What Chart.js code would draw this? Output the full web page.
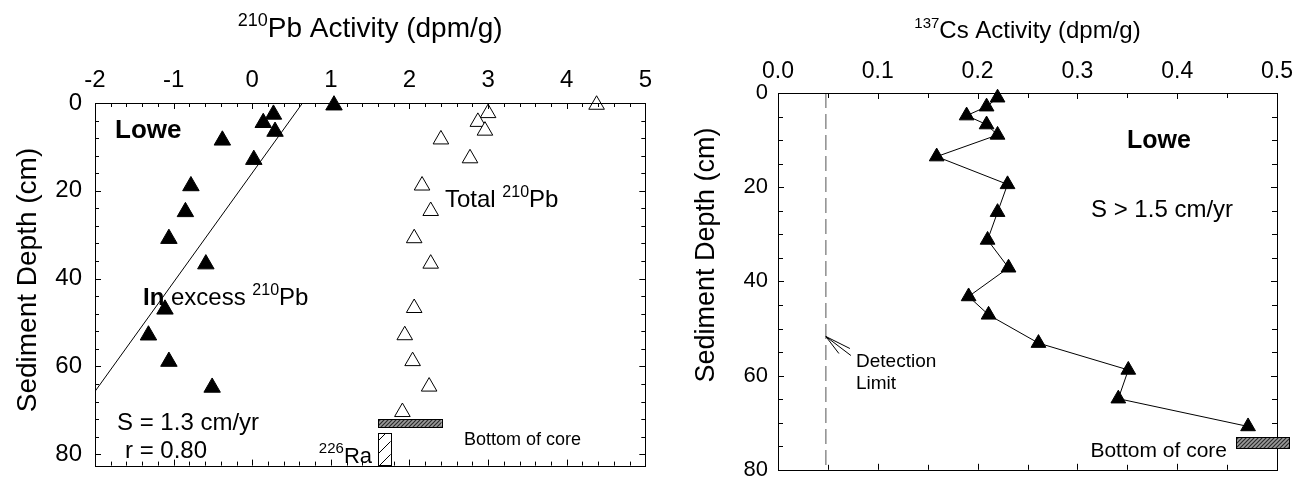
<!DOCTYPE html>
<html>
<head>
<meta charset="utf-8">
<script src="https://cdn.jsdelivr.net/npm/chart.js@4.4.0/dist/chart.umd.min.js"></script>
<style>
  body { margin: 0; background: #fff; width: 1305px; height: 493px; overflow: hidden; position: relative; }
  #pbWrap { position: absolute; left: 0; top: 0; }
  #csWrap { position: absolute; left: 660px; top: 0; }
</style>
</head>
<body>
<div id="pbWrap"><canvas id="pbChart" width="660" height="493"></canvas></div>
<div id="csWrap"><canvas id="csChart" width="645" height="493"></canvas></div>
<script>
// 210Pb profile, Lowe core
const pbDepth = [0.5, 2.6, 4.5, 6.5, 8.5, 12.9, 18.9, 24.8, 30.9, 36.7, 47.0, 52.9, 58.9, 64.8];
const pbExcess = [1.04, 0.27, 0.14, 0.29, -0.38, 0.02, -0.78, -0.85, -1.06, -0.59, -1.11, -1.32, -1.06, -0.51];
const pbTotalDepth = [0.4, 2.3, 4.3, 6.3, 8.3, 12.6, 18.8, 24.6, 30.8, 36.6, 46.7, 52.9, 58.8, 64.6, 70.4];
const pbTotal = [4.38, 3.0, 2.87, 2.96, 2.40, 2.77, 2.16, 2.27, 2.06, 2.27, 2.06, 1.94, 2.04, 2.25, 1.91];
// regression through excess 210Pb (S = 1.3 cm/yr)
const pbFitX = [0.64, -2.0];
const pbFitDepth = [0, 65.7];
// 226Ra support level and core bottom marker
const raRange = [1.6, 1.76];
const raTopDepth = 75.2;
const pbCoreX = [1.6, 2.41];
const pbCoreDepth = [72.0, 73.8];

// 137Cs profile, Lowe core
const csDepth = [1.0, 2.9, 4.8, 6.7, 8.9, 13.5, 19.4, 25.3, 31.2, 37.1, 43.2, 47.1, 53.1, 58.8, 64.9, 70.8];
const csActivity = [0.22, 0.209, 0.189, 0.209, 0.22, 0.159, 0.23, 0.22, 0.21, 0.231, 0.191, 0.211, 0.261, 0.351, 0.341, 0.471];
const detectionLimit = 0.048;
const detectionArrowDepth = 51.7;
const csCoreX = [0.459, 0.512];
const csCoreDepth = [73.1, 75.4];

const FONT = '"Liberation Sans", Arial, Helvetica, sans-serif';
Chart.defaults.font.family = FONT;
Chart.defaults.color = '#000';

function font(size, bold) {
  return (bold ? 'bold ' : '') + size + 'px ' + FONT;
}

// text made of runs: [text, size, bold, raise]
function drawRuns(ctx, runs, x, y, align) {
  let w = 0;
  runs.forEach(r => { ctx.font = font(r[1], r[2]); w += ctx.measureText(r[0]).width; });
  let cx = align === 'center' ? x - w / 2 : align === 'right' ? x - w : x;
  ctx.textAlign = 'left';
  ctx.textBaseline = 'alphabetic';
  runs.forEach(r => {
    ctx.font = font(r[1], r[2]);
    ctx.fillText(r[0], cx, y - (r[3] || 0));
    cx += ctx.measureText(r[0]).width;
  });
}

function hatch(bg, fg, gap, lw) {
  const c = document.createElement('canvas');
  c.width = gap; c.height = gap;
  const g = c.getContext('2d');
  g.fillStyle = bg;
  g.fillRect(0, 0, gap, gap);
  g.strokeStyle = fg;
  g.lineWidth = lw;
  g.beginPath();
  g.moveTo(-1, gap + 1); g.lineTo(gap + 1, -1);
  g.moveTo(-1, 1); g.lineTo(1, -1);
  g.moveTo(gap - 1, gap + 1); g.lineTo(gap + 1, gap - 1);
  g.stroke();
  return g.createPattern(c, 'repeat');
}

// frame with inward ticks on all four sides
function drawFrame(chart, xStep, yStep, xMajor, yMajor, majLen, minLen) {
  const ctx = chart.ctx;
  const a = chart.chartArea;
  const xs = chart.scales.x, ys = chart.scales.y;
  ctx.save();
  ctx.strokeStyle = '#000';
  ctx.lineWidth = 1;
  ctx.strokeRect(Math.round(a.left) + 0.5, Math.round(a.top) + 0.5, Math.round(a.right - a.left), Math.round(a.bottom - a.top));
  ctx.beginPath();
  for (let v = xs.min; v <= xs.max + 1e-9; v += xStep) {
    const px = Math.round(xs.getPixelForValue(v)) + 0.5;
    const isMaj = Math.abs(v / xMajor - Math.round(v / xMajor)) < 1e-6;
    const len = isMaj ? majLen : minLen;
    ctx.moveTo(px, a.top); ctx.lineTo(px, a.top + len);
    ctx.moveTo(px, a.bottom); ctx.lineTo(px, a.bottom - len);
  }
  for (let v = ys.min; v <= ys.max + 1e-9; v += yStep) {
    const py = Math.round(ys.getPixelForValue(v)) + 0.5;
    const isMaj = Math.abs(v / yMajor - Math.round(v / yMajor)) < 1e-6;
    const len = isMaj ? majLen : minLen;
    ctx.moveTo(a.left, py); ctx.lineTo(a.left + len, py);
    ctx.moveTo(a.right, py); ctx.lineTo(a.right - len, py);
  }
  ctx.stroke();
  ctx.restore();
}

function drawBar(chart, xr, yr, fill) {
  const ctx = chart.ctx;
  const xs = chart.scales.x, ys = chart.scales.y;
  const x0 = xs.getPixelForValue(xr[0]), x1 = xs.getPixelForValue(xr[1]);
  const y0 = ys.getPixelForValue(yr[0]), y1 = ys.getPixelForValue(yr[1]);
  ctx.save();
  ctx.fillStyle = fill;
  ctx.fillRect(x0, y0, x1 - x0, y1 - y0);
  ctx.strokeStyle = '#000';
  ctx.lineWidth = 1;
  ctx.strokeRect(Math.round(x0) + 0.5, Math.round(y0) + 0.5, Math.round(x1 - x0), Math.round(y1 - y0));
  ctx.restore();
}

const pbDecor = {
  id: 'pbDecor',
  afterDraw(chart) {
    const ctx = chart.ctx;
    const a = chart.chartArea;
    const ys = chart.scales.y;
    drawFrame(chart, 0.2, 4, 1, 20, 6, 4);
    drawBar(chart, raRange, [raTopDepth, ys.max], hatch('#fff', '#000', 13, 1));
    drawBar(chart, pbCoreX, pbCoreDepth, hatch('#9a9a9a', '#2a2a2a', 4, 1.2));
    ctx.save();
    ctx.fillStyle = '#000';
    drawRuns(ctx, [['210', 18, false, 11], ['Pb Activity (dpm/g)', 28]], (a.left + a.right) / 2, 37, 'center');
    drawRuns(ctx, [['Lowe', 26, true]], 115, 138, 'left');
    drawRuns(ctx, [['Total ', 24], ['210', 16, false, 10], ['Pb', 24]], 445, 207, 'left');
    drawRuns(ctx, [['In', 24, true], [' excess ', 24], ['210', 16, false, 10], ['Pb', 24]], 143, 305, 'left');
    drawRuns(ctx, [['S = 1.3 cm/yr', 24]], 117, 430, 'left');
    drawRuns(ctx, [['r = 0.80', 24]], 125, 458, 'left');
    drawRuns(ctx, [['226', 15, false, 10], ['Ra', 22]], 372, 463, 'right');
    drawRuns(ctx, [['Bottom of core', 18]], 464, 445, 'left');
    ctx.translate(26, 280);
    ctx.rotate(-Math.PI / 2);
    drawRuns(ctx, [['Sediment Depth (cm)', 28]], 0, 10, 'center');
    ctx.restore();
  }
};

const csDecor = {
  id: 'csDecor',
  afterDraw(chart) {
    const ctx = chart.ctx;
    const a = chart.chartArea;
    const xs = chart.scales.x, ys = chart.scales.y;
    drawFrame(chart, 0.05, 5, 0.1, 20, 6, 5);
    ctx.save();
    drawBar(chart, csCoreX, csCoreDepth, hatch('#9a9a9a', '#2a2a2a', 4, 1.2));
    // arrow to the detection limit line
    const tx = xs.getPixelForValue(detectionLimit), ty = ys.getPixelForValue(detectionArrowDepth);
    ctx.strokeStyle = '#000';
    ctx.lineWidth = 1;
    ctx.beginPath();
    ctx.moveTo(tx, ty); ctx.lineTo(tx + 25, ty + 19);
    ctx.moveTo(tx, ty); ctx.lineTo(tx + 13, ty + 17);
    ctx.moveTo(tx, ty); ctx.lineTo(tx + 24, ty + 12);
    ctx.stroke();
    ctx.fillStyle = '#000';
    drawRuns(ctx, [['137', 15, false, 10], ['Cs Activity (dpm/g)', 24]], (a.left + a.right) / 2, 38, 'center');
    drawRuns(ctx, [['Lowe', 25, true]], 467, 148, 'left');
    drawRuns(ctx, [['S > 1.5 cm/yr', 24]], 431, 217, 'left');
    drawRuns(ctx, [['Detection', 19]], 196, 367, 'left');
    drawRuns(ctx, [['Limit', 19]], 196, 389, 'left');
    drawRuns(ctx, [['Bottom of core', 21]], 567, 457, 'right');
    ctx.translate(44, 255);
    ctx.rotate(-Math.PI / 2);
    drawRuns(ctx, [['Sediment Depth (cm)', 27]], 0, 10, 'center');
    ctx.restore();
  }
};

const baseOptions = {
  responsive: false,
  animation: false,
  events: [],
  plugins: { legend: { display: false }, tooltip: { enabled: false } }
};

new Chart(document.getElementById('pbChart'), {
  type: 'scatter',
  data: {
    datasets: [
      {
        data: pbExcess.map((v, i) => ({ x: v, y: pbDepth[i] })),
        pointStyle: 'triangle', pointRadius: 9.5,
        backgroundColor: '#000', borderColor: '#000', borderWidth: 1, clip: false
      },
      {
        data: pbTotal.map((v, i) => ({ x: v, y: pbTotalDepth[i] })),
        pointStyle: 'triangle', pointRadius: 9,
        backgroundColor: '#fff', borderColor: '#000', borderWidth: 1, clip: false
      },
      {
        data: pbFitX.map((v, i) => ({ x: v, y: pbFitDepth[i] })),
        showLine: true, pointRadius: 0, borderColor: '#000', borderWidth: 1
      }
    ]
  },
  options: {
    ...baseOptions,
    layout: { padding: { left: 0, top: 0, right: 8, bottom: 10 } },
    scales: {
      x: {
        type: 'linear', position: 'top', min: -2, max: 5,
        ticks: { stepSize: 1, padding: 8, font: { size: 24 }, color: '#000' },
        grid: { display: false, drawTicks: false }, border: { display: false },
        afterFit: s => { s.height = 103; }
      },
      y: {
        type: 'linear', reverse: true, min: 0, max: 82.6,
        ticks: { stepSize: 20, includeBounds: false, padding: 13, font: { size: 24 }, color: '#000' },
        grid: { display: false, drawTicks: false }, border: { display: false },
        afterFit: s => { s.width = 95; }
      }
    }
  },
  plugins: [pbDecor]
});

new Chart(document.getElementById('csChart'), {
  type: 'scatter',
  data: {
    datasets: [
      {
        data: csActivity.map((v, i) => ({ x: v, y: csDepth[i] })),
        showLine: true, pointStyle: 'triangle', pointRadius: 8.5,
        backgroundColor: '#000', borderColor: '#000', borderWidth: 1, clip: false
      },
      {
        data: [{ x: detectionLimit, y: 0 }, { x: detectionLimit, y: 80 }],
        showLine: true, pointRadius: 0, borderColor: '#555', borderWidth: 1, borderDash: [15, 6]
      }
    ]
  },
  options: {
    ...baseOptions,
    layout: { padding: { left: 0, top: 0, right: 28, bottom: 16 } },
    scales: {
      x: {
        type: 'linear', position: 'top', min: 0, max: 0.5,
        ticks: { stepSize: 0.1, padding: 8, font: { size: 23 }, color: '#000', callback: v => v.toFixed(1) },
        grid: { display: false, drawTicks: false }, border: { display: false },
        afterFit: s => { s.height = 93; }
      },
      y: {
        type: 'linear', reverse: true, min: 0, max: 80,
        ticks: { stepSize: 20, padding: 10, font: { size: 22 }, color: '#000' },
        grid: { display: false, drawTicks: false }, border: { display: false },
        afterFit: s => { s.width = 118; }
      }
    }
  },
  plugins: [csDecor]
});
</script>
</body>
</html>
